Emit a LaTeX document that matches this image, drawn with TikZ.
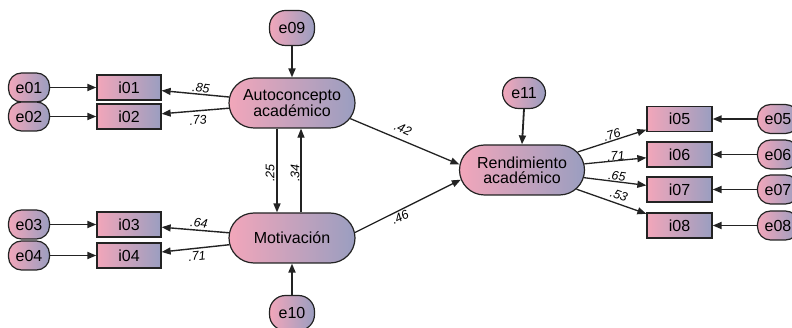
\documentclass[tikz,border=0pt]{standalone}
\usepackage{fontspec}
\setmainfont{Liberation Sans}
\usetikzlibrary{arrows.meta,shapes.misc}
\definecolor{pk}{RGB}{242,166,186}
\definecolor{bl}{RGB}{154,158,192}
\definecolor{lc}{RGB}{35,35,35}
\begin{document}
\begin{tikzpicture}[x=1pt,y=-1pt,
  fillg/.style={left color=pk, right color=bl, draw=lc},
  lat/.style={rounded rectangle, fillg, line width=1.2pt, minimum width=126pt, minimum height=50pt, inner sep=0pt, align=center, font=\fontsize{16}{15}\selectfont},
  obs/.style={rectangle, fillg, line width=1.3pt, minimum width=64pt, minimum height=25pt, inner sep=0pt, font=\fontsize{16}{16}\selectfont},
  err/.style={rectangle, rounded corners=13pt, fillg, line width=1.2pt, minimum width=41pt, minimum height=29pt, inner sep=0pt, font=\fontsize{16}{16}\selectfont},
  bigerr/.style={err, rounded corners=16pt, minimum width=45pt, minimum height=35pt},
  ar/.style={-{Triangle[length=9pt,width=7pt]}, line width=1.1pt, draw=lc},
  tar/.style={ar, line width=1.8pt},
  lab/.style={font=\fontsize{12.5}{12.5}\selectfont\itshape, inner sep=0pt}
]
\useasboundingbox (0,0) rectangle (792,328);
\clip (0,0) rectangle (792,328);

% latent variables
\node[lat] (auto) at (292,103) {Autoconcepto\\académico};
\node[lat] (mot) at (292,238) {Motivación};
\node[lat, minimum width=125pt] (rend) at (522,170) {Rendimiento\\académico};

% error terms of latents
\node[bigerr] (e09) at (292,28) {e09};
\node[bigerr] (e10) at (292,313) {e10};
\node[bigerr, minimum width=43pt, minimum height=31pt] (e11) at (524,93) {e11};

% observed
\node[obs] (i01) at (129,87.5) {i01};
\node[obs] (i02) at (129,116.5) {i02};
\node[obs] (i03) at (129,224.5) {i03};
\node[obs] (i04) at (129,255.5) {i04};
\node[obs, minimum width=65pt] (i05) at (679.5,119) {i05};
\node[obs, minimum width=65pt] (i06) at (679.5,154.5) {i06};
\node[obs, minimum width=65pt] (i07) at (679.5,189.5) {i07};
\node[obs, minimum width=65pt] (i08) at (679.5,225.5) {i08};

% errors of observed
\node[err] (e01) at (29,87.5) {e01};
\node[err] (e02) at (29,116.5) {e02};
\node[err] (e03) at (29,224.5) {e03};
\node[err] (e04) at (29,255.5) {e04};
\node[err] (e05) at (778,119) {e05};
\node[err] (e06) at (778,154.5) {e06};
\node[err] (e07) at (778,189.5) {e07};
\node[err] (e08) at (778,225.5) {e08};

% error arrows
\draw[tar] (e01.east) -- (i01.west);
\draw[tar] (e02.east) -- (i02.west);
\draw[tar] (e03.east) -- (i03.west);
\draw[tar] (e04.east) -- (i04.west);
\draw[tar] (e05.west) -- (i05.east);
\draw[tar] (e06.west) -- (i06.east);
\draw[tar] (e07.west) -- (i07.east);
\draw[tar] (e08.west) -- (i08.east);
\draw[tar] (e09.south) -- (auto.north);
\draw[tar] (e10.north) -- (mot.south);
\draw[tar] (e11.south) -- (rend.north);

% loadings (centre to centre)
\draw[ar, line width=1.4pt] (auto) -- (i01);
\draw[ar, line width=1.4pt] (auto) -- (i02);
\draw[ar, line width=1.4pt] (mot) -- (i03);
\draw[ar, line width=1.4pt] (mot) -- (i04);
\draw[ar, line width=1.3pt] (rend) -- (i05);
\draw[ar, line width=1.3pt] (rend) -- (i06);
\draw[ar, line width=1.3pt] (rend) -- (i07);
\draw[ar, line width=1.3pt] (rend) -- (i08);

% structural paths
\draw[ar, line width=1.6pt] ([xshift=-15pt]auto.south) -- ([xshift=-15pt]mot.north);
\draw[ar] ([xshift=9pt]mot.north) -- ([xshift=9pt]auto.south);
\draw[ar, line width=1.3pt] (auto.-15) -- (rend.175);
\draw[ar, line width=1.3pt] (mot.5) -- (rend.189);

% labels
\node[lab, rotate=-7] (l85) at (201,88) {.85};
\node[lab, rotate=6] (l73) at (198,120) {.73};
\node[lab, rotate=-7] (l64) at (199,223) {.64};
\node[lab, rotate=6] (l71a) at (197,256) {.71};
\node[lab, rotate=90] (l25) at (270,173) {.25};
\node[lab, rotate=90] (l34) at (295,173) {.34};
\node[lab, rotate=-24] (l42) at (403,129) {.42};
\node[lab, rotate=27] (l46) at (400,217) {.46};
\node[lab, rotate=18] (l76) at (612,135) {.76};
\node[lab, rotate=5] (l71b) at (616,156) {.71};
\node[lab, rotate=-8] (l65) at (617,176) {.65};
\node[lab, rotate=-20] (l53) at (619,195) {.53};
\end{tikzpicture}
\end{document}
